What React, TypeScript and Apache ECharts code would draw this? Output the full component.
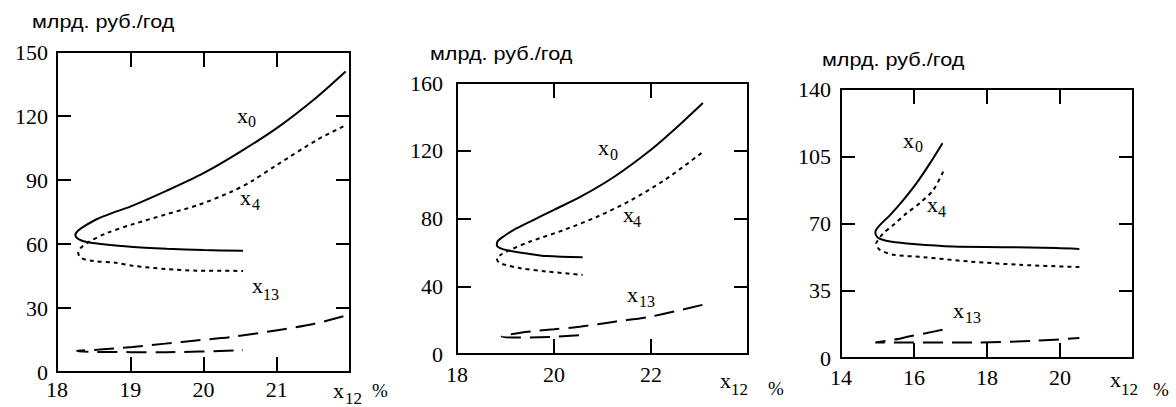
import React, { useEffect, useRef } from "react";
import * as echarts from "echarts";

// Panel 1 (x12 from 18 to 22)
const p1X0 = [[21.94,140.9],[21.5,127.5],[21,114.3],[20.5,103.2],[20,93.2],[19.5,85],[19,77.5],[18.75,74.5],[18.54,71.6],[18.38,68.5],[18.29,66.3],[18.25,64.2],[18.3,62.2],[18.42,60.8],[18.6,60],[19,58.7],[19.5,57.8],[20,57.2],[20.54,56.8]];
const p1X4 = [[21.91,115.1],[21.55,108.8],[21,97],[20.65,89.3],[20.38,84.5],[19.93,78.3],[19.48,73.8],[19.03,69.2],[18.67,65],[18.44,61.1],[18.32,58],[18.29,55.8],[18.33,53.4],[18.5,52],[18.8,51.2],[19.03,49.8],[19.48,48.3],[19.93,47.5],[20.54,47.4]];
const p1X13 = [[21.91,26.1],[21.5,22.5],[21.01,19.6],[20.38,16.4],[19.93,14.9],[19.48,13.3],[19.03,11.7],[18.58,10.5],[18.27,9.9],[18.5,9.4],[19.5,9.3],[20.54,10.2]];

// Panel 2 (x12 from 18 to 24)
const p2X0 = [[23.07,148.2],[22.5,133],[22,120.6],[21.25,104.8],[20.56,93],[20,85.1],[19.51,78.2],[19.17,73.3],[18.96,69.4],[18.84,66.6],[18.82,64.4],[18.9,62.3],[19.05,61.1],[19.4,59.5],[19.85,57.8],[20.59,57.1]];
const p2X4 = [[23.04,118.6],[22.29,102.9],[21.6,91],[20.9,81.2],[20.21,73.3],[19.51,66.4],[19.1,61.5],[18.9,58.5],[18.82,56.5],[18.86,54.2],[19,52.6],[19.31,50.6],[19.85,48.7],[20.59,46.7]];
const p2X13 = [[23.06,29],[22,22.1],[21.25,19.1],[20.56,16.2],[20,14.6],[19.31,12.6],[18.92,10.2],[19.31,9.7],[20,10.2],[20.59,11.2]];

// Panel 3 (x12 from 14 to 22)
const p3X0 = [[16.78,111.8],[16.44,101.4],[16.07,91],[15.71,82.3],[15.35,74.5],[15.07,69.3],[14.96,66.6],[14.94,65],[15,62.8],[15.1,61.8],[15.35,60.6],[15.98,59.3],[17.07,58],[18.44,57.7],[19.89,57.2],[20.53,56.7]];
const p3X4 = [[16.8,97],[16.53,87.5],[16.16,80.6],[15.8,75.4],[15.44,69.3],[15.16,65],[15,61],[14.96,59.4],[15.05,56.5],[15.16,55.4],[15.44,53.7],[16.25,52.5],[17.53,50.2],[18.9,48.5],[20.53,47.3]];
const p3X13 = [[16.78,14.7],[16.35,13],[15.89,11.3],[15.44,9.5],[14.94,8.1],[15.8,8.1],[17.62,8.1],[19.35,9],[20.53,10.4]];

const xRanges = [[18, 22, 1], [18, 24, 2], [14, 22, 2]];
const yRanges = [[0, 150, 30], [0, 160, 40], [0, 140, 35]];
const yTitle = "млрд. руб./год";
const xTitleMain = "x";
const xTitleSub = "12";
const curveNames = [["x", "0"], ["x", "4"], ["x", "13"]];

const panelData = [
  [p1X0, p1X4, p1X13],
  [p2X0, p2X4, p2X13],
  [p3X0, p3X4, p3X13],
];

// layout (pixels)
const grids = [
  { left: 57, top: 52, width: 293, height: 320 },
  { left: 457, top: 83, width: 291, height: 271 },
  { left: 841, top: 89, width: 292, height: 269 },
];
const yLabelMargins = [9, 14, 10];
const xLabelMargins = [6, 9, 8];
const titlePos = [[32, 22], [430, 54], [822, 60]];
const curveLabelPos = [
  [[237, 123, 248, 127], [240, 205, 252, 210], [252, 293, 263, 300]],
  [[598, 155, 610, 160], [623, 222, 633, 227], [627, 302, 639, 307]],
  [[903, 148, 915, 152], [927, 212, 938, 217], [953, 318, 965, 323]],
];
const xTitlePos = [[333, 398, 345, 404, 372, 397], [720, 388, 731, 395, 768, 395], [1110, 387, 1121, 395, 1153, 396]];
const dashTypes: any[] = ["solid", [4, 4], [20, 9]];

const SERIF = "'Liberation Serif', 'Times New Roman', serif";
const SANS = "'Liberation Sans', Arial, sans-serif";

function txt(x: number, baseline: number, text: string, size: number, family = SERIF, scaleX = 1) {
  return {
    type: "text",
    x,
    y: baseline - 0.34 * size,
    scaleX,
    silent: true,
    style: { text, fontFamily: family, fontSize: size, fill: "#000", verticalAlign: "middle", align: "left" },
  };
}

export default function App() {
  const ref = useRef<HTMLDivElement>(null);
  useEffect(() => {
    if (!ref.current) return;
    const chart = echarts.init(ref.current, undefined, { renderer: "svg" });
    const lineStyle = { color: "#000", width: 2 };
    const xAxis: any[] = [];
    const yAxis: any[] = [];
    const series: any[] = [];
    const graphic: any[] = [];
    grids.forEach((g, i) => {
      const [xmin, xmax, xint] = xRanges[i];
      const [ymin, ymax, yint] = yRanges[i];
      ["bottom", "top"].forEach((pos) => {
        xAxis.push({
          gridIndex: i, type: "value", position: pos, min: xmin, max: xmax, interval: xint,
          axisLine: { show: true, onZero: false, lineStyle },
          axisTick: { show: true, inside: true, length: 15, lineStyle },
          axisLabel: {
            show: pos === "bottom", showMaxLabel: false, margin: xLabelMargins[i],
            color: "#000", fontFamily: SERIF, fontSize: 22,
          },
          splitLine: { show: false },
        });
      });
      ["left", "right"].forEach((pos) => {
        yAxis.push({
          gridIndex: i, type: "value", position: pos, min: ymin, max: ymax, interval: yint,
          axisLine: { show: true, onZero: false, lineStyle },
          axisTick: { show: true, inside: true, length: 14, lineStyle },
          axisLabel: {
            show: pos === "left", margin: yLabelMargins[i],
            color: "#000", fontFamily: SERIF, fontSize: 22,
          },
          splitLine: { show: false },
        });
      });
      panelData[i].forEach((d, k) => {
        series.push({
          type: "line", xAxisIndex: 2 * i, yAxisIndex: 2 * i, data: d,
          showSymbol: false, smooth: 0.3, silent: true,
          lineStyle: { color: "#000", width: 2, type: dashTypes[k] },
        });
        const p = curveLabelPos[i][k];
        graphic.push(txt(p[0], p[1], curveNames[k][0], 22));
        graphic.push(txt(p[2], p[3], curveNames[k][1], 16));
      });
      const t = titlePos[i];
      graphic.push(txt(t[0], t[1] + 0.34 * 18, yTitle, 18, SANS, 1.2));
      const xp = xTitlePos[i];
      graphic.push(txt(xp[0], xp[1], xTitleMain, 22));
      graphic.push(txt(xp[2], xp[3], xTitleSub, 17));
      graphic.push(txt(xp[4], xp[5], "%", 19));
    });
    chart.setOption({
      animation: false,
      backgroundColor: "#fff",
      textStyle: { fontFamily: SERIF },
      grid: grids.map((g) => ({ ...g, containLabel: false })),
      xAxis, yAxis, series, graphic,
    });
    return () => chart.dispose();
  }, []);
  return <div ref={ref} style={{ position: "fixed", left: 0, top: 0, width: 1176, height: 407 }} />;
}
